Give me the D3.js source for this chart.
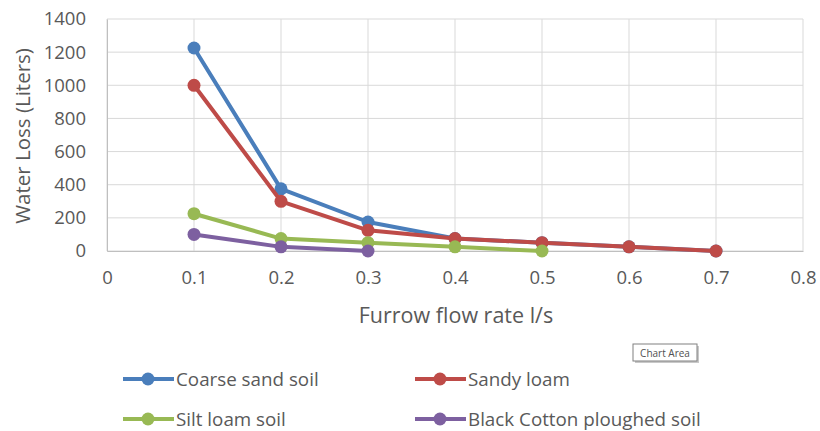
<!DOCTYPE html>
<html>
<head>
<meta charset="utf-8">
<script src="https://cdn.jsdelivr.net/npm/d3@7"></script>
<style>
  body { margin: 0; background: #fff; }
  text { font-family: "Open Sans", sans-serif; fill: #595959; }
</style>
</head>
<body>
<div id="chart"></div>
<script>
// data
var flowRates = [0.1, 0.2, 0.3, 0.4, 0.5, 0.6, 0.7];
var coarseSand = [1225, 375, 175, 75, 50, 25, 0];
var sandyLoam = [1000, 300, 125, 75, 50, 25, 0];
var siltLoam = [225, 75, 50, 25, 0];
var blackCotton = [100, 25, 0];
var seriesNames = ["Coarse sand soil", "Sandy loam", "Silt loam soil", "Black Cotton ploughed soil"];
var seriesColors = ["#4a7ebb", "#be4b48", "#98b954", "#7d60a0"];
var xTicks = [0, 0.1, 0.2, 0.3, 0.4, 0.5, 0.6, 0.7, 0.8];
var yTicks = [0, 200, 400, 600, 800, 1000, 1200, 1400];

var svgWidth = 820;
var svgHeight = 431;

var margin = {top: 19, right: 17, bottom: 180, left: 107};
var width = svgWidth - margin.left - margin.right;
var height = svgHeight - margin.top - margin.bottom;

var svg = d3.select("#chart")
  .append("svg")
  .attr("width", svgWidth)
  .attr("height", svgHeight);

var chartGroup = svg.append("g")
  .attr("transform", `translate(${margin.left}, ${margin.top})`);

var xScale = d3.scaleLinear().domain([0, 0.8]).range([0, width]);
var yScale = d3.scaleLinear().domain([0, 1400]).range([height, 0]);

//gridlines
chartGroup.append("g")
  .selectAll("line.vgrid")
  .data(xTicks)
  .enter()
  .append("line")
  .attr("x1", d => xScale(d))
  .attr("x2", d => xScale(d))
  .attr("y1", 0)
  .attr("y2", height)
  .attr("stroke", "#d9d9d9")
  .attr("stroke-width", 1);

chartGroup.append("g")
  .selectAll("line.hgrid")
  .data(yTicks)
  .enter()
  .append("line")
  .attr("x1", 0)
  .attr("x2", width)
  .attr("y1", d => yScale(d))
  .attr("y2", d => yScale(d))
  .attr("stroke", "#d9d9d9")
  .attr("stroke-width", 1);

//axes
var bottomAxis = d3.axisBottom(xScale).tickValues(xTicks).tickSize(0).tickPadding(20).tickFormat(d3.format("~g"));
var leftAxis = d3.axisLeft(yScale).tickValues(yTicks).tickSize(0).tickPadding(21).tickFormat(d3.format("d"));

var xAxis = chartGroup.append("g")
  .attr("transform", `translate(0, ${height})`)
  .call(bottomAxis);
xAxis.select(".domain").attr("stroke", "#bfbfbf");
xAxis.selectAll("text").style("font-size", "18.5px").attr("fill", "#595959");

var yAxis = chartGroup.append("g").call(leftAxis);
yAxis.select(".domain").attr("stroke", "#bfbfbf");
yAxis.selectAll("text").style("font-size", "18.5px").attr("fill", "#595959");

//axis titles
svg.append("text")
  .attr("x", margin.left + width / 2 + 1)
  .attr("y", 323)
  .attr("text-anchor", "middle")
  .style("font-size", "21.5px")
  .text("Furrow flow rate l/s");

svg.append("text")
  .attr("transform", `translate(30, ${margin.top + height / 2 + 1}) rotate(-90)`)
  .attr("text-anchor", "middle")
  .style("font-size", "20.5px")
  .text("Water Loss (Liters)");

//series
var allSeries = [coarseSand, sandyLoam, siltLoam, blackCotton];
var line = d3.line()
  .x((d, i) => xScale(flowRates[i]))
  .y(d => yScale(d));

allSeries.forEach(function(values, s) {
  var g = chartGroup.append("g");
  g.append("path")
    .datum(values)
    .attr("d", line)
    .attr("fill", "none")
    .attr("stroke", seriesColors[s])
    .attr("stroke-width", 4)
    .attr("stroke-linejoin", "round");
  g.selectAll("circle")
    .data(values)
    .enter()
    .append("circle")
    .attr("cx", (d, i) => xScale(flowRates[i]))
    .attr("cy", d => yScale(d))
    .attr("r", 6.5)
    .attr("fill", seriesColors[s]);
});

//legend
var legendPos = [[123, 379], [415, 379], [123, 419], [415, 419]];
seriesNames.forEach(function(name, s) {
  var lg = svg.append("g")
    .attr("transform", `translate(${legendPos[s][0]}, ${legendPos[s][1]})`);
  lg.append("line")
    .attr("x1", 0).attr("x2", 51)
    .attr("y1", 0).attr("y2", 0)
    .attr("stroke", seriesColors[s])
    .attr("stroke-width", 4);
  lg.append("circle")
    .attr("cx", 25).attr("cy", 0).attr("r", 6.5)
    .attr("fill", seriesColors[s]);
  lg.append("text")
    .attr("x", 53)
    .attr("y", 0)
    .attr("dy", "0.35em")
    .style("font-size", "18.8px")
    .text(name);
});

//"Chart Area" hover tip
var tip = svg.append("g").attr("transform", "translate(633, 344)");
tip.append("rect")
  .attr("x", 2).attr("y", 2)
  .attr("width", 64).attr("height", 17)
  .attr("fill", "#c8c8c8");
tip.append("rect")
  .attr("x", 0).attr("y", 0)
  .attr("width", 64).attr("height", 17)
  .attr("fill", "#fff")
  .attr("stroke", "#808080");
tip.append("text")
  .attr("x", 32).attr("y", 12.5)
  .attr("text-anchor", "middle")
  .style("font-size", "10px")
  .style("fill", "#505050")
  .text("Chart Area");
</script>
</body>
</html>
